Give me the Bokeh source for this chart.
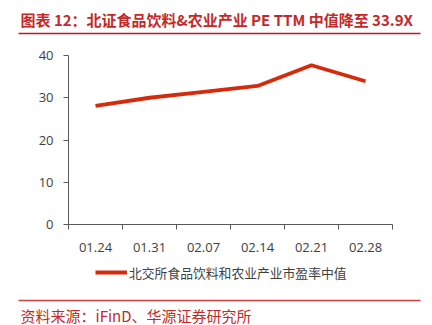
from bokeh.plotting import figure
from bokeh.layouts import column, row
from bokeh.models import Range1d, FixedTicker, Legend, LegendItem, ColumnDataSource
from bokeh.core.properties import value
from bokeh.embed import file_html
from bokeh.resources import INLINE

dates = ["01.24", "01.31", "02.07", "02.14", "02.21", "02.28"]
pe_median = [28.1, 30.0, 31.4, 32.8, 37.7, 33.9]
y_ticks = [0, 10, 20, 30, 40]
title_text = "图表 12：北证食品饮料&农业产业 PE TTM 中值降至 33.9X"
series_name = "北交所食品饮料和农业产业市盈率中值"
source_text = "资料来源：iFinD、华源证券研究所"

RED = "#c8102e"
TXT_RED = "#c62828"
LINE = "#d52b0c"
GREY = "#404040"
AXIS = "#595959"
W = 432
NAN = float("nan")


def deco_fig(h):
    f = figure(width=W, height=h, output_backend="svg", toolbar_location=None,
               x_range=Range1d(0, W), y_range=Range1d(h, 0),
               x_axis_type=None, y_axis_type=None,
               min_border=0, min_border_left=0, min_border_right=0,
               min_border_top=0, min_border_bottom=0)
    f.outline_line_color = None
    f.xgrid.grid_line_color = None
    f.ygrid.grid_line_color = None
    return f


# ---- title strip ----
top = deco_fig(40)
top.text(x=[20], y=[19], text=[title_text], text_font=value("Noto Sans CJK SC"),
         text_font_style="bold", text_font_size="15px", text_color=TXT_RED,
         text_baseline="middle", text_align="left")
top.segment(x0=[18], y0=[33], x1=[420], y1=[33], line_color=RED, line_width=1.5)

# ---- main chart ----
xs = [i + 0.5 for i in range(len(dates))]
src = ColumnDataSource(dict(x=xs, y=pe_median, d=dates))

p = figure(width=W, height=215, output_backend="svg", toolbar_location=None,
           x_range=Range1d(0, len(dates)), y_range=Range1d(0, 40),
           min_border_left=68, min_border_right=40, min_border_top=15, min_border_bottom=31)
p.outline_line_color = None
p.xgrid.grid_line_color = None
p.ygrid.grid_line_color = None

r = p.line("x", "y", source=src, line_color=LINE, line_width=3.8)

p.xaxis.ticker = FixedTicker(ticks=xs, minor_ticks=list(range(len(dates) + 1)))
p.xaxis.major_label_overrides = {x: d for x, d in zip(xs, dates)}
p.xaxis.major_tick_line_color = None
p.xaxis.minor_tick_out = 5
p.xaxis.minor_tick_in = 0
p.xaxis.minor_tick_line_color = AXIS
p.xaxis.axis_line_color = AXIS
p.xaxis.major_label_standoff = 12
p.xaxis.major_label_text_font = "Open Sans"
p.xaxis.major_label_text_font_size = "13px"
p.xaxis.major_label_text_color = GREY

p.yaxis.ticker = FixedTicker(ticks=y_ticks)
p.yaxis.minor_tick_line_color = None
p.yaxis.major_tick_out = 5
p.yaxis.major_tick_in = 0
p.yaxis.major_tick_line_color = AXIS
p.yaxis.axis_line_color = AXIS
p.yaxis.major_label_standoff = 10
p.yaxis.major_label_text_font = "Open Sans"
p.yaxis.major_label_text_font_size = "13px"
p.yaxis.major_label_text_color = GREY

# ---- legend + source strip ----
bot = deco_fig(70)
key = bot.line(x=[NAN, NAN], y=[NAN, NAN], line_color=LINE, line_width=4)
legend = Legend(items=[LegendItem(label=series_name, renderers=[key])],
                location=(95, 43), orientation="horizontal",
                padding=0, margin=0, border_line_color=None, background_fill_alpha=0,
                glyph_width=32, glyph_height=20, label_height=20, label_standoff=2,
                label_text_font="Noto Sans CJK SC", label_text_font_size="12.8px",
                label_text_color=GREY)
bot.add_layout(legend)
bot.segment(x0=[18], y0=[45], x1=[420], y1=[45], line_color="#d04040", line_width=1.5)
bot.text(x=[20], y=[60], text=[source_text], text_font=value("Noto Sans CJK SC"),
         text_font_size="15px", text_color=TXT_RED, text_baseline="middle", text_align="left")

layout = column(row(top), p, row(bot), spacing=0)
open("out.html", "w").write(file_html(layout, INLINE))
